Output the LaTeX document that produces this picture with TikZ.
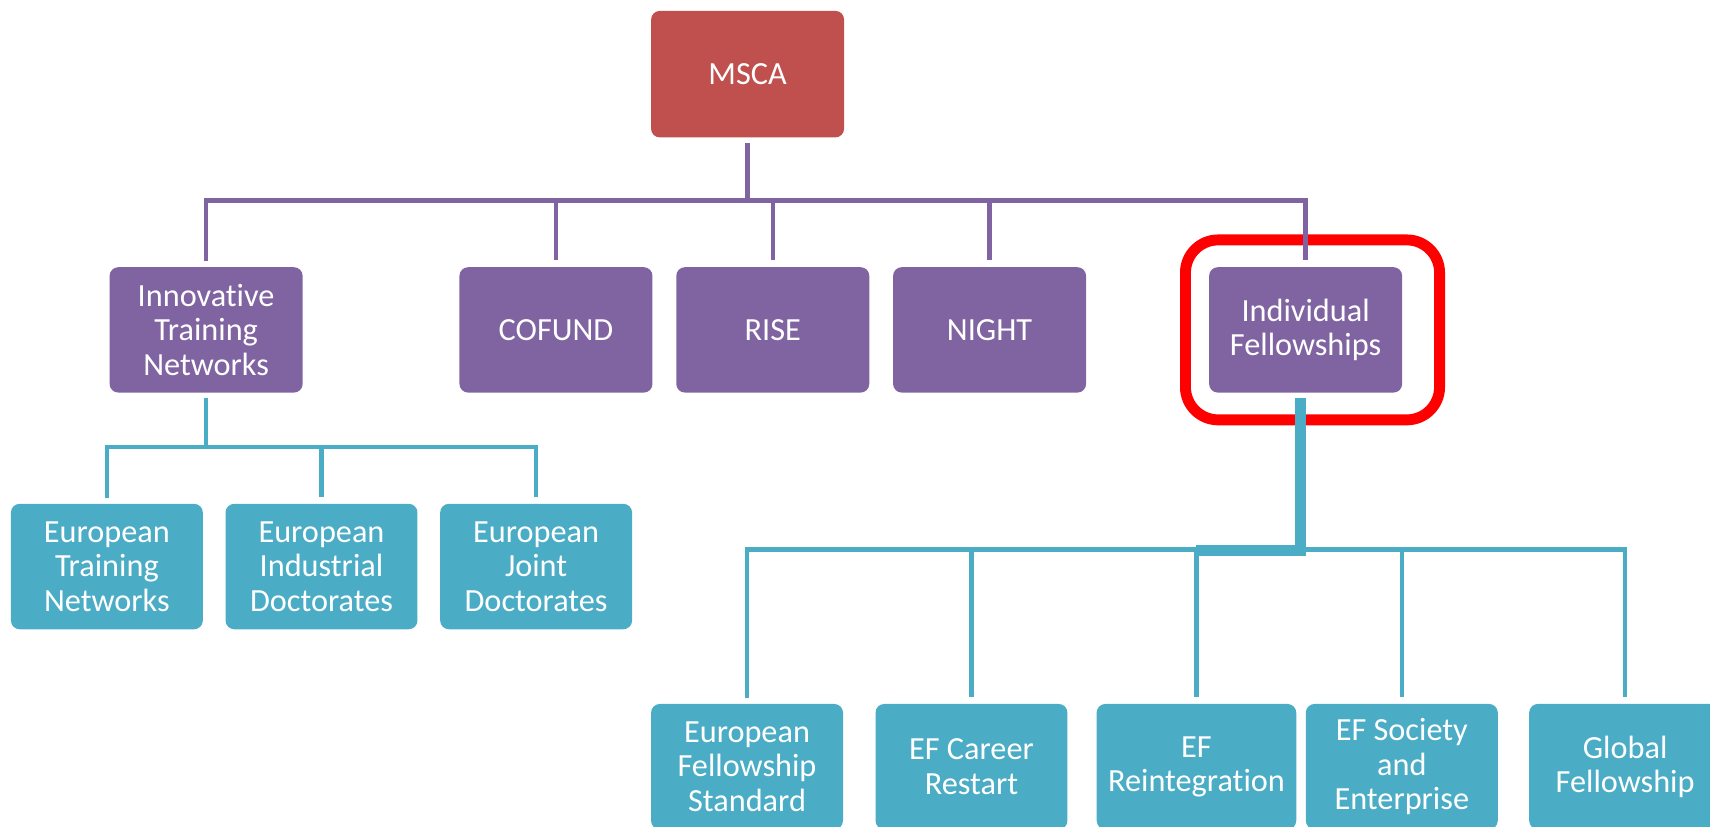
\documentclass[tikz,border=0pt]{standalone}
\usepackage{fontspec}
\setmainfont{Carlito}[Ligatures=NoCommon]
\usetikzlibrary{positioning}
\definecolor{mscared}{HTML}{C0504D}
\definecolor{actpurple}{HTML}{8064A2}
\definecolor{subcyan}{HTML}{4BACC6}

\begin{document}
\begin{tikzpicture}[x=0.5pt, y=-0.5pt]
\tikzstyle{box} = [rectangle, rounded corners=4pt, text=white, align=center, inner sep=0pt, font=\fontsize{14.8}{15.75}\selectfont]
\tikzstyle{redbox} = [box, fill=mscared, minimum width=88.5pt, minimum height=58pt]
\tikzstyle{purplebox} = [box, fill=actpurple, minimum width=88.5pt, minimum height=57.5pt]
\tikzstyle{cyanbox} = [box, fill=subcyan, minimum width=88pt, minimum height=57.5pt]
\tikzstyle{purpleline} = [draw=actpurple, line width=2pt]
\tikzstyle{cyanline} = [draw=subcyan, line width=2pt]
\tikzstyle{ifline} = [draw=subcyan, line width=5pt]
\tikzstyle{frombox} = [shorten <=2.5pt]
\tikzstyle{tobox} = [shorten >=3pt]
\tikzstyle{highlight} = [draw=red, line width=5pt, rounded corners=15pt]

\useasboundingbox (0,0) rectangle (1568,758);

% Boxes
\node[redbox] (msca) at (685.5,68) {MSCA};
\node[purplebox] (itn) at (189,302.5) {Innovative\\Training\\Networks};
\node[purplebox] (cofund) [right=71.5pt of itn] {COFUND};
\node[purplebox] (rise) [right=10.5pt of cofund] {RISE};
\node[purplebox] (night) [right=10.5pt of rise] {NIGHT};
\node[purplebox] (if) [right=56pt of night] {Individual\\Fellowships};

\node[cyanbox] (etn) at (98,519.5) {European\\Training\\Networks};
\node[cyanbox] (eid) [right=10pt of etn] {European\\Industrial\\Doctorates};
\node[cyanbox] (ejd) [right=10pt of eid] {European\\Joint\\Doctorates};

\node[cyanbox] (efs) at (685,703) {European\\Fellowship\\Standard};
\node[cyanbox] (ecr) [right=14.5pt of efs] {EF Career\\Restart};
\node[cyanbox, minimum width=91.5pt] (rein) [right=13pt of ecr] {EF\\Reintegration};
\node[cyanbox] (efse) [right=4pt of rein] {EF Society\\and\\Enterprise};
\node[cyanbox] (gf) [right=14pt of efse] {Global\\Fellowship};

% Highlight round Individual Fellowships
\draw[highlight] (1087,220) rectangle (1320,385);

% Connectors
\coordinate (topbus) at (685.5,184);
\coordinate (itnbus) at (189,410);
\coordinate (lowbus) at (683,504);

\draw[purpleline, frombox] (msca.south) -- (topbus);
\draw[purpleline, frombox, tobox] (itn.north) |- (if.north |- topbus) -- (if.north);
\draw[purpleline, tobox] (cofund.north |- topbus) -- (cofund.north);
\draw[purpleline, tobox] (rise.north |- topbus) -- (rise.north);
\draw[purpleline, tobox] (night.north |- topbus) -- (night.north);

\draw[cyanline, frombox] (itn.south) -- (itnbus);
\draw[cyanline, frombox, tobox] (etn.north) |- (ejd.north |- itnbus) -- (ejd.north);
\draw[cyanline, tobox] (eid.north |- itnbus) -- (eid.north);

\draw[cyanline, frombox, tobox] (efs.north) |- (gf.north |- lowbus) -- (gf.north);
\draw[cyanline, tobox] (ecr.north |- lowbus) -- (ecr.north);
\draw[cyanline, tobox] (rein.north |- lowbus) -- (rein.north);
\draw[cyanline, tobox] (efse.north |- lowbus) -- (efse.north);
\draw[ifline, frombox] ([xshift=-2.5pt]if.south) |- ([yshift=-0.5pt]rein.north |- lowbus);

\end{tikzpicture}
\end{document}
